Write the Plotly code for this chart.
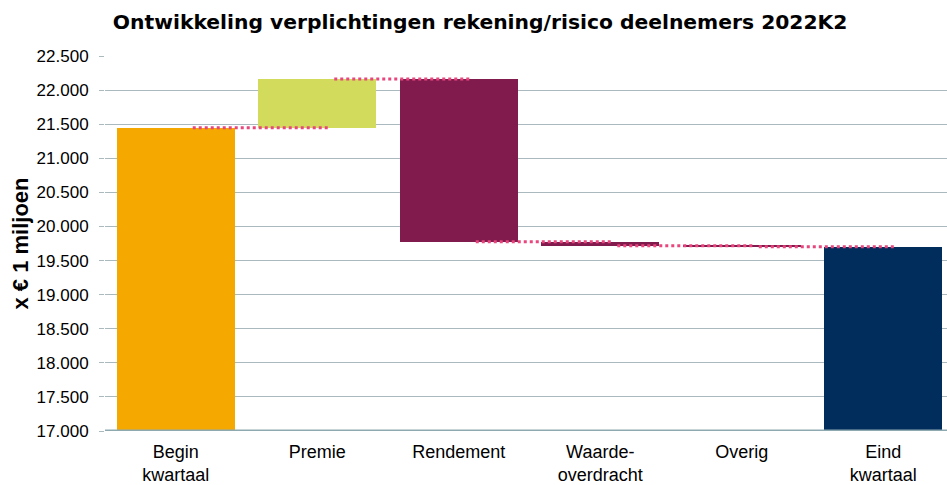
import plotly.graph_objects as go

categories = ["Begin<br>kwartaal", "Premie", "Rendement", "Waarde-<br>overdracht", "Overig", "Eind<br>kwartaal"]
begin_value = 21447
changes = [714, -2386, -58, -15]   # Premie, Rendement, Waarde-overdracht, Overig
colors = ["#F5A800", "#D3DB5C", "#821B4D", "#821B4D", "#821B4D", "#002D5C"]

# build bases / lengths
bases, lengths, levels = [0], [begin_value], [begin_value]
level = begin_value
for c in changes:
    new = level + c
    bases.append(min(level, new))
    lengths.append(abs(c))
    level = new
    levels.append(level)
bases.append(0)
lengths.append(level)
levels.append(level)

xs = list(range(len(categories)))
fig = go.Figure()
fig.add_trace(go.Bar(
    x=xs, y=lengths, base=bases, width=0.833,
    marker=dict(color=colors, line=dict(width=0)),
    showlegend=False,
))

# dotted connectors
for i in range(len(categories) - 1):
    fig.add_shape(type="line", xref="x", yref="y",
                  x0=i + 0.12, x1=i + 1.09, y0=levels[i], y1=levels[i],
                  line=dict(color="#E8467C", width=3, dash="dot"), layer="above")

fig.update_layout(
    width=947, height=485,
    margin=dict(l=105, r=0, t=56, b=54),
    paper_bgcolor="white", plot_bgcolor="white",
    separators=",.",
    font=dict(family="Liberation Sans, Arial, sans-serif", color="#000000"),
    title=dict(text="<b>Ontwikkeling verplichtingen rekening/risico deelnemers 2022K2</b>",
               x=0.507, xanchor="center", y=0.955, yanchor="middle",
               font=dict(size=20.3, color="#000000", family="DejaVu Sans, Verdana, sans-serif")),
    bargap=0,
    xaxis=dict(
        tickmode="array", tickvals=xs, ticktext=categories,
        range=[-0.5, len(categories) - 0.55],
        showgrid=False, ticks="", tickfont=dict(size=18),
        ticklabelstandoff=8,
        showline=False, zeroline=False,
    ),
    yaxis=dict(
        range=[17000, 22500], dtick=500, tick0=17000, tickformat=",d",
        showgrid=True, gridcolor="#A9B9BD", gridwidth=1,
        ticks="outside", ticklen=5, tickcolor="#A9B9BD",
        tickfont=dict(size=17), ticklabelstandoff=7,
        title=dict(text="<b>x € 1 miljoen</b>", font=dict(size=22), standoff=1),
        zeroline=False, showline=False,
    ),
)

# thick bottom axis line
fig.add_shape(type="line", xref="paper", yref="y", x0=0, x1=1, y0=17000, y1=17000,
              line=dict(color="#8FA9B1", width=3), layer="above")

fig.write_html("out.html", config={"displayModeBar": False},
               post_script="document.body.style.margin='0';document.body.style.overflow='hidden';")
